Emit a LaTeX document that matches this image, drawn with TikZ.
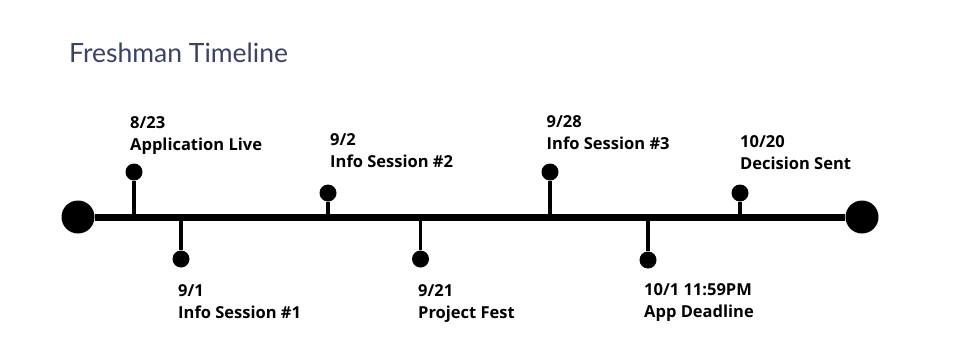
\documentclass[tikz,border=0pt]{standalone}
\usepackage{fontspec}
\setmainfont{Lato}
\newfontfamily\evfont{Open Sans}
\definecolor{titleblue}{HTML}{3B4263}

\begin{document}
\begin{tikzpicture}[x=1pt,y=-1pt,
  enddot/.style={circle,fill=black,inner sep=0pt,minimum size=33pt},
  evdot/.style={circle,fill=black,inner sep=0pt,minimum size=17pt},
  stem/.style={line width=3.5pt},
  evtext/.style={anchor=base west,inner sep=0pt,font=\evfont\bfseries\fontsize{16.5}{18}\selectfont}]
\useasboundingbox (0,0) rectangle (956,354);

\node[anchor=base west,inner sep=0pt,text=titleblue,font=\fontsize{26.5}{32}\selectfont] (title) at (69,62) {Freshman Timeline};

% main axis
\node[enddot] (start) at (78,217) {};
\node[enddot] (end) at (862,217) {};
\draw[line width=7pt] (start) -- (end);

% events above the line: dot x / dot y / text x / date baseline
\foreach \xx/\yy/\tx/\ty/\dt/\nm [count=\i] in {134/172/130/128/{8/23}/{Application Live},
    328/193/330/145/{9/2}/{Info Session \#2},
    550/172/546.5/127.5/{9/28}/{Info Session \#3},
    740/193/740/147.5/{10/20}/{Decision Sent}}{
  \coordinate (up\i) at (\xx,217);
  \node[evdot] (updot\i) at (\xx,\yy) {};
  \draw[stem] (up\i) -- (updot\i);
  \node[evtext] (update\i) at (\tx,\ty) {\dt};
  \node[evtext] (upname\i) at (\tx,\ty+22) {\nm};
}

% events below the line
\foreach \xx/\yy/\tx/\ty/\dt/\nm [count=\i] in {181/259/178/296/{9/1}/{Info Session \#1},
    420.5/259/418/296/{9/21}/{Project Fest},
    648/260/644/295.5/{10/1 11:59PM}/{App Deadline}}{
  \coordinate (dn\i) at (\xx,217);
  \node[evdot] (dndot\i) at (\xx,\yy) {};
  \draw[stem] (dn\i) -- (dndot\i);
  \node[evtext] (dndate\i) at (\tx,\ty) {\dt};
  \node[evtext] (dnname\i) at (\tx,\ty+22) {\nm};
}
\end{tikzpicture}
\end{document}
